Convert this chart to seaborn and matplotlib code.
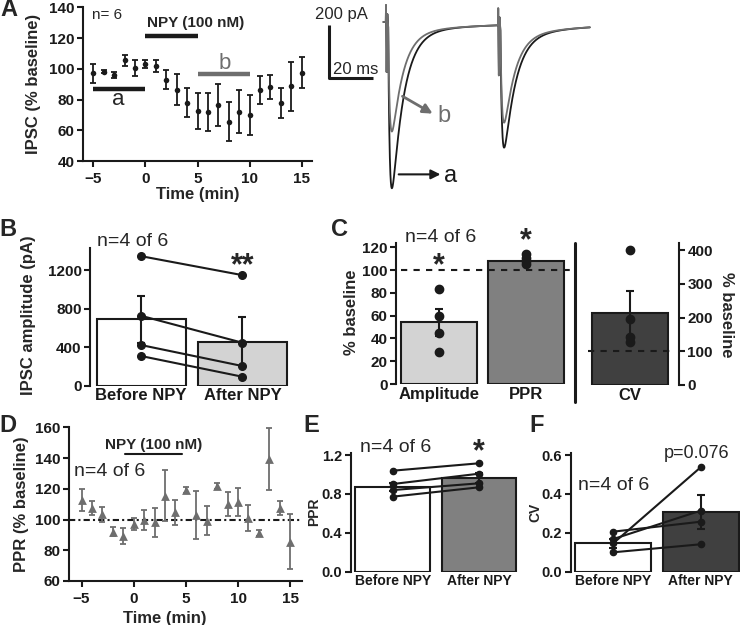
import numpy as np
import pandas as pd
import matplotlib
matplotlib.use("Agg")
import matplotlib.pyplot as plt
from matplotlib.lines import Line2D
import seaborn as sns

# ------------------------------------------------------------------ data
time_min = list(range(-5, 16))
ipsc_pct = [97, 98, 96, 105.5, 100.5, 103, 102, 93, 86.5, 78, 72.5, 72, 76.5,
            65.5, 72, 70, 86, 88, 78, 88.5, 97.5]
ipsc_sem = [6, 1, 2, 3.5, 5.5, 2.4, 4, 6, 9.8, 9.2, 11.6, 12.5, 13.5, 12.8,
            14, 13, 9, 7.8, 9.8, 16, 10]

ppr_time_pct = [112.7, 107.3, 103.4, 92.1, 89.3, 96.9, 99.7, 98.2, 115.5, 104.7,
                119.2, 103, 99.3, 121.8, 110.1, 111.6, 100.8, 91, 139.4, 107.7, 85.6]
ppr_time_sem = [7.3, 4.5, 5, 3, 5, 4, 6.5, 9.5, 16.5, 8, 2, 15.5, 9.5, 2, 7.5,
                9, 8.5, 2, 20, 4.5, 18]

conds = ["Before NPY", "After NPY"]
amp_bar = [690, 456]
amp_bar_sem = [245, 256]
amp_before = [1345, 726, 422, 308]
amp_after = [1148, 446, 204, 93]

c_cats = ["Amplitude", "PPR"]
c_bar = [54, 108]
c_sem = [12, 2]
amp_pct_cells = [83.4, 59.6, 44.6, 28.2]
ppr_pct_cells = [114, 111, 108, 105]
cv_cat = ["CV"]
cv_pct_bar = [212]
cv_pct_sem = [66]
cv_pct_cells = [399, 195, 141, 126]

ppr_bar = [0.874, 0.961]
ppr_bar_sem = [0.042, 0.05]
ppr_before = [1.039, 0.902, 0.840, 0.772]
ppr_after = [1.115, 1.008, 0.909, 0.868]

cv_bar = [0.146, 0.306]
cv_bar_sem = [0.022, 0.088]
cv_before = [0.206, 0.168, 0.146, 0.0998]
cv_after = [0.257, 0.314, 0.537, 0.141]

# example traces (ms, pA)
trace_stim_ms = [30, 81]
trace_peak_a = [640, 475]
trace_peak_b = [426, 381]
trace_tau_a = 5.2
trace_tau_b = 4.9

# ------------------------------------------------------------------ style
sns.set_theme(style="ticks")
plt.rcParams['font.family'] = ['Liberation Sans', 'DejaVu Sans']
plt.rcParams['axes.linewidth'] = 1.5

GRAY = '#6e6e6e'
W, H = 740, 625
fig = plt.figure(figsize=(7.4, 6.25), dpi=100)


def axes_px(l, t, r, b):
    return fig.add_axes([l / W, 1 - b / H, (r - l) / W, (b - t) / H])


def ftext(x, y, s, **kw):
    kw.setdefault('ha', 'center')
    kw.setdefault('va', 'center')
    fig.text(x / W, 1 - y / H, s, **kw)


def style(ax, ts=11, bottom=True):
    sns.despine(ax=ax, top=True, right=True, bottom=not bottom)
    ax.tick_params(axis='both', direction='out', length=4, width=1.5,
                   labelsize=ts, pad=2, color='k', labelcolor='k')
    for sp in ax.spines.values():
        sp.set_linewidth(1.5)
        sp.set_color('k')
    ax.set_xlabel('')
    ax.set_ylabel('')
    ax.set_facecolor('none')
    ax.grid(False)


def bold_ticks(ax):
    for lb in ax.get_xticklabels() + ax.get_yticklabels():
        lb.set_fontweight('bold')


def paired(ax, before, after, ms=5.5):
    for b, a in zip(before, after):
        ax.plot([0, 1], [b, a], '-o', color='k', lw=1.5, ms=ms, zorder=4)


# ------------------------------------------------------------------ A
axA = axes_px(83, 7.3, 312, 161)
axA.errorbar(time_min, ipsc_pct, yerr=ipsc_sem, fmt='none', ecolor='k',
             elinewidth=1.3, capsize=2.5, capthick=1.3)
sns.scatterplot(x=time_min, y=ipsc_pct, color='k', s=16, linewidth=0, ax=axA, zorder=3)
axA.set_xlim(-6, 16)
axA.set_ylim(40, 140)
axA.set_xticks([-5, 0, 5, 10, 15])
axA.set_yticks(range(40, 141, 20))
style(axA)
axA.tick_params(axis='x', pad=4)
bold_ticks(axA)
axA.plot([0, 5], [121.6, 121.6], color='k', lw=3.2, solid_capstyle='butt')
axA.text(4.8, 129.5, 'NPY (100 nM)', ha='center', va='center', fontsize=11, fontweight='bold')
axA.plot([-5, 0], [86.8, 86.8], color='k', lw=3.2, solid_capstyle='butt')
axA.text(-2.6, 80, 'a', ha='center', va='center', fontsize=16)
axA.plot([5, 10], [96.7, 96.7], color=GRAY, lw=3.2, solid_capstyle='butt')
axA.text(7.6, 103.5, 'b', ha='center', va='center', fontsize=16, color=GRAY)
axA.text(-5.13, 135, 'n= 6', ha='left', va='center', fontsize=11)
ftext(34, 84, 'IPSC (% baseline)', rotation=90, fontsize=12, fontweight='bold')
ftext(198, 194, 'Time (min)', fontsize=12, fontweight='bold')

# traces
axT = axes_px(320, 0, 600, 200)
axT.set_xlim(0, 280 / 2.2)
axT.set_ylim(-178 / 0.265, 22 / 0.265)
axT.axis('off')
t = np.arange(28.8, 122.7, 0.05)


def response(peaks, tau_d):
    y = np.zeros_like(t)
    tau_r = 0.7
    tp = np.log(tau_d / tau_r) * tau_d * tau_r / (tau_d - tau_r)
    fmax = np.exp(-tp / tau_d) - np.exp(-tp / tau_r)
    ts_r, ts_d = 2.0, 40.0
    tp2 = np.log(ts_d / ts_r) * ts_d * ts_r / (ts_d - ts_r)
    smax = np.exp(-tp2 / ts_d) - np.exp(-tp2 / ts_r)
    slow_amp = 35.0
    for ts, pk in zip(trace_stim_ms, peaks):
        tt = np.clip(t - ts - 1.0, 0, None)
        on = (t - ts - 1.0) > 0
        fast = np.where(on, np.exp(-tt / tau_d) - np.exp(-tt / tau_r), 0) / fmax
        slow = np.where(on, np.exp(-tt / ts_d) - np.exp(-tt / ts_r), 0) / smax
        y -= (pk - slow_amp) * fast + slow_amp * slow
        art = np.interp(t - ts, [-0.1, 0.0, 0.3, 0.6, 1.0, 1.5],
                        [0, 64, -189, 30, -20, 0], left=0, right=0)
        y += art
    return y


axT.plot(t, response(trace_peak_a, trace_tau_a), color='k', lw=1.3)
axT.plot(t, response(trace_peak_b, trace_tau_b), color=GRAY, lw=1.3)
axT.plot([4.2, 4.2, 24.2], [-11, -211, -211], color='k', lw=2.2, solid_capstyle='butt')
axT.annotate('', xy=(52.3, -351), xytext=(36.4, -275),
             arrowprops=dict(arrowstyle='-|>', color=GRAY, lw=2, mutation_scale=14))
axT.text(56.4, -355, 'b', color=GRAY, fontsize=17, ha='center', va='center')
axT.annotate('', xy=(56.0, -575), xytext=(34.5, -575),
             arrowprops=dict(arrowstyle='-|>', color='k', lw=1.5, mutation_scale=14))
axT.text(59.5, -580, 'a', color='k', fontsize=17, ha='center', va='center')
ftext(341, 15, '200 pA', fontsize=12)
ftext(356, 69, '20 ms', fontsize=12)

# ------------------------------------------------------------------ B
axB = axes_px(90, 248, 300, 385.7)
dfB = pd.DataFrame({'cond': conds, 'val': amp_bar})
sns.barplot(data=dfB, x='cond', y='val', hue='cond', palette=['white', '#d3d3d3'],
            edgecolor='k', linewidth=1.5, width=0.88, errorbar=None, legend=False, ax=axB)
axB.errorbar([0, 1], amp_bar, yerr=amp_bar_sem, fmt='none', ecolor='k',
             elinewidth=1.5, capsize=3, capthick=1.5, zorder=3)
paired(axB, amp_before, amp_after)
axB.set_xlim(-0.505, 1.568)
axB.set_ylim(0, 1430)
axB.set_yticks([0, 400, 800, 1200])
style(axB, ts=11, bottom=False)
axB.tick_params(axis='x', length=0, pad=2, labelsize=12)
bold_ticks(axB)
ftext(97, 242, 'n=4 of 6', ha='left', fontsize=14)
ftext(243, 266, '**', fontsize=22, fontweight='bold')
ftext(29, 315, 'IPSC amplitude (pA)', rotation=90, fontsize=12, fontweight='bold')

# ------------------------------------------------------------------ C
axC = axes_px(396, 242.7, 572, 384)
dfC = pd.DataFrame({'cat': c_cats, 'val': c_bar})
sns.barplot(data=dfC, x='cat', y='val', hue='cat', palette=['#d3d3d3', '#808080'],
            edgecolor='k', linewidth=1.5, width=0.873, errorbar=None, legend=False, ax=axC)
axC.errorbar([0, 1], c_bar, yerr=c_sem, fmt='none', ecolor='k', elinewidth=1.5,
             capsize=3, capthick=1.5, zorder=3)
axC.plot([0] * len(amp_pct_cells), amp_pct_cells, 'o', color='k', ms=6, zorder=4)
axC.plot([1] * len(ppr_pct_cells), ppr_pct_cells, 'o', color='k', ms=6, zorder=4)
axC.plot([-0.44, 1.534], [100, 100], color='k', lw=1.5, dashes=(3, 3), clip_on=False, zorder=5)
axC.set_xlim(-0.496, 1.534)
axC.set_ylim(0, 124)
axC.set_yticks(range(0, 121, 20))
style(axC, ts=11, bottom=False)
axC.tick_params(axis='x', length=0, pad=2, labelsize=12)
bold_ticks(axC)
ftext(441, 237, 'n=4 of 6', fontsize=14)
ftext(439, 266, '*', fontsize=22, fontweight='bold')
ftext(526, 241, '*', fontsize=22, fontweight='bold')
ftext(352, 312, '% baseline', rotation=90, fontsize=12, fontweight='bold')

fig.add_artist(Line2D([575 / W, 575 / W], [1 - 243 / H, 1 - 401.7 / H],
                      color='k', lw=2.2, transform=fig.transFigure))

axC2 = axes_px(580, 243.3, 679, 385)
dfC2 = pd.DataFrame({'cat': cv_cat, 'val': cv_pct_bar})
sns.barplot(data=dfC2, x='cat', y='val', color='#404040', edgecolor='k', linewidth=1.5,
            width=0.88, errorbar=None, ax=axC2)
axC2.errorbar([0], cv_pct_bar, yerr=cv_pct_sem, fmt='none', ecolor='k', elinewidth=1.5,
              capsize=3, capthick=1.5, zorder=3)
axC2.plot([0] * len(cv_pct_cells), cv_pct_cells, 'o', color='k', ms=6, zorder=4, clip_on=False)
axC2.plot([-0.486, 0.521], [100, 100], color='k', lw=1.5, dashes=(3, 3), clip_on=False, zorder=5)
axC2.set_xlim(-0.579, 0.567)
axC2.set_ylim(0, 420)
axC2.set_yticks([0, 100, 200, 300, 400])
style(axC2, ts=11, bottom=False)
sns.despine(ax=axC2, left=True, right=False, bottom=True)
axC2.spines['right'].set_linewidth(1.5)
axC2.yaxis.tick_right()
axC2.tick_params(axis='y', direction='out', length=4, width=1.5, pad=2)
axC2.tick_params(axis='x', length=0, pad=2, labelsize=12)
bold_ticks(axC2)
ftext(726, 315, '% baseline', rotation=270, fontsize=12, fontweight='bold')

# ------------------------------------------------------------------ D
axD = axes_px(69, 427.3, 301.7, 581)
axD.errorbar(time_min, ppr_time_pct, yerr=ppr_time_sem, fmt='none', ecolor=GRAY,
             elinewidth=1.3, capsize=2.5, capthick=1.3)
sns.scatterplot(x=time_min, y=ppr_time_pct, color=GRAY, marker='^', s=40, linewidth=0,
                ax=axD, zorder=3)
axD.axhline(100, color='k', lw=1.5, linestyle=(0, (3, 1.5, 1, 1.5)), zorder=1)
axD.set_xlim(-6.2, 16.1)
axD.set_ylim(60, 160)
axD.set_xticks([-5, 0, 5, 10, 15])
axD.set_yticks(range(60, 161, 20))
style(axD)
axD.tick_params(axis='x', pad=4)
bold_ticks(axD)
axD.text(1.87, 148.5, 'NPY (100 nM)', ha='center', va='center', fontsize=11, fontweight='bold')
axD.plot([-0.84, 4.6], [142.4, 142.4], color='k', lw=1.5)
axD.text(-5.74, 131, 'n=4 of 6', ha='left', va='center', fontsize=14)
ftext(22, 504, 'PPR (% baseline)', rotation=90, fontsize=12, fontweight='bold')
ftext(165, 618, 'Time (min)', fontsize=12, fontweight='bold')

# ------------------------------------------------------------------ E
axE = axes_px(350.7, 452.7, 520, 571.7)
dfE = pd.DataFrame({'cond': conds, 'val': ppr_bar})
sns.barplot(data=dfE, x='cond', y='val', hue='cond', palette=['white', '#808080'],
            edgecolor='k', linewidth=1.5, width=0.869, errorbar=None, legend=False, ax=axE)
axE.errorbar([0, 1], ppr_bar, yerr=ppr_bar_sem, fmt='none', ecolor='k', elinewidth=1.5,
             capsize=3, capthick=1.5, zorder=3)
paired(axE, ppr_before, ppr_after, ms=4.5)
axE.set_xlim(-0.49, 1.477)
axE.set_ylim(0, 1.224)
axE.set_yticks([0, 0.4, 0.8, 1.2])
axE.set_yticklabels(['0.0', '0.4', '0.8', '1.2'])
style(axE, ts=10.5, bottom=False)
axE.tick_params(axis='x', length=0, pad=2, labelsize=10)
bold_ticks(axE)
ftext(360, 447, 'n=4 of 6', ha='left', fontsize=14)
ftext(479, 452, '*', fontsize=22, fontweight='bold')
ftext(314, 512, 'PPR', rotation=90, fontsize=10, fontweight='bold')

# ------------------------------------------------------------------ F
axF = axes_px(570.7, 452.7, 740, 571.7)
dfF = pd.DataFrame({'cond': conds, 'val': cv_bar})
sns.barplot(data=dfF, x='cond', y='val', hue='cond', palette=['white', '#404040'],
            edgecolor='k', linewidth=1.5, width=0.87, errorbar=None, legend=False, ax=axF)
axF.errorbar([0, 1], cv_bar, yerr=cv_bar_sem, fmt='none', ecolor='k', elinewidth=1.5,
             capsize=3, capthick=1.5, zorder=3)
paired(axF, cv_before, cv_after, ms=4.5)
axF.set_xlim(-0.487, 1.45)
axF.set_ylim(0, 0.612)
axF.set_yticks([0, 0.2, 0.4, 0.6])
axF.set_yticklabels(['0.0', '0.2', '0.4', '0.6'])
style(axF, ts=10.5, bottom=False)
axF.tick_params(axis='x', length=0, pad=2, labelsize=10)
bold_ticks(axF)
ftext(578, 485, 'n=4 of 6', ha='left', fontsize=14)
ftext(697, 453, 'p=0.076', fontsize=13)
ftext(535, 512, 'CV', rotation=90, fontsize=10, fontweight='bold')

# ------------------------------------------------------------------ panel letters
for x, y, s in [(9, 10, 'A'), (8, 229, 'B'), (339, 229, 'C'), (8, 425, 'D'),
                (311, 425, 'E'), (537, 425, 'F')]:
    ftext(x, y, s, fontsize=17, fontweight='bold')

fig.savefig('out.png', dpi=100)
